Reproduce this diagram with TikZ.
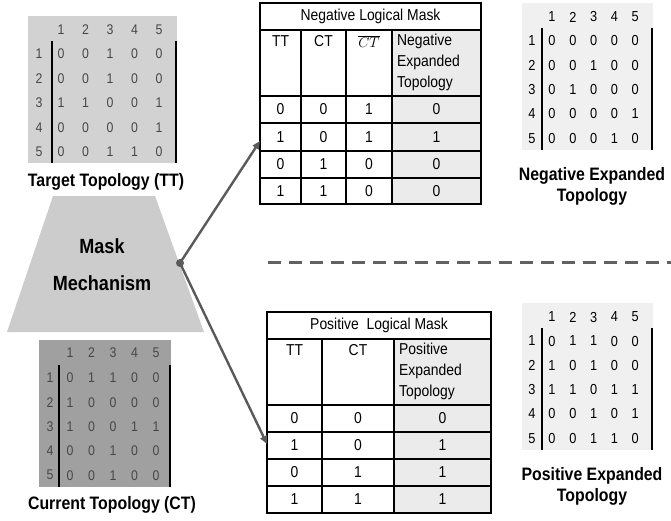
\documentclass[tikz,border=0pt]{standalone}
\usepackage{fontspec}
\setmainfont{Liberation Sans}[FakeStretch=0.88]
\usetikzlibrary{arrows.meta}
\definecolor{ttgray}{HTML}{D2D2D2}
\definecolor{ctgray}{HTML}{A0A0A0}
\definecolor{exgray}{HTML}{F0F0F0}
\definecolor{shadecol}{HTML}{EBEBEB}
\definecolor{trapcol}{HTML}{CCCCCC}
\definecolor{arrowgray}{HTML}{5A5A5A}
\begin{document}
\begin{tikzpicture}[x=1pt,y=-1pt,
  tabline/.style={line width=1.8pt, black},
  cell/.style={font=\fontsize{15.8}{18}\selectfont, inner sep=0pt},
  hcell/.style={font=\fontsize{15.8}{21}\selectfont, inner sep=0pt, anchor=north},
  tdig/.style={font=\fontsize{14}{16}\selectfont, text=black!72, inner sep=0pt},
  edig/.style={font=\fontsize{14.5}{16}\selectfont, text=black, inner sep=0pt},
  mbar/.style={line width=2.5pt, black},
  biglabel/.style={font=\fontsize{18}{21}\selectfont\bfseries, align=center, inner sep=0pt},
  mechlabel/.style={font=\fontsize{20.5}{22}\selectfont\bfseries, inner sep=0pt},
  conn/.style={line width=2.4pt, arrowgray, -{Triangle[length=8pt,width=7pt]}},
]
\useasboundingbox (0,0) rectangle (671,520);

% ---------- Target Topology matrix ----------
\fill[ttgray] (28,16) rectangle (177,163);
\draw[mbar] (52,41) -- (52,163);
\draw[mbar] (176,41) -- (176,163);
\foreach \c in {1,...,5} \node[tdig] (tth\c) at ({61+24.5*(\c-1)},30) {\c};
\foreach \r/\row in {1/{0,0,1,0,0},2/{0,0,1,0,0},3/{1,1,0,0,1},4/{0,0,0,0,1},5/{0,0,1,1,0}} {
  \node[tdig] (ttr\r) at (39,{54+24.5*(\r-1)}) {\r};
  \foreach \v [count=\c] in \row
    \node[tdig] (tt\r\c) at ({61+24.5*(\c-1)},{54+24.5*(\r-1)}) {\v};
}
\node[biglabel] (ttlabel) at (106,182) {Target Topology (TT)};

% ---------- Current Topology matrix ----------
\fill[ctgray] (39,340) rectangle (171,487);
\draw[mbar] (59,365) -- (59,487);
\draw[mbar] (170,365) -- (170,487);
\foreach \c in {1,...,5} \node[tdig] (cth\c) at ({70+21.5*(\c-1)},353) {\c};
\foreach \r/\row in {1/{0,1,1,0,0},2/{1,0,0,0,0},3/{1,0,0,1,1},4/{0,0,1,0,0},5/{0,0,1,0,0}} {
  \node[tdig] (ctr\r) at (50,{378+24.3*(\r-1)}) {\r};
  \foreach \v [count=\c] in \row
    \node[tdig] (ct\r\c) at ({70+21.5*(\c-1)},{378+24.3*(\r-1)}) {\v};
}
\node[biglabel] (ctlabel) at (112,505) {Current Topology (CT)};

% ---------- Mask mechanism ----------
\fill[trapcol] (53,196) -- (155,196) -- (204,332) -- (7,332) -- cycle;
\node[mechlabel] (mask) at (102,246) {Mask};
\node[mechlabel] (mech) at (102,283) {Mechanism};

% ---------- Negative expanded matrix ----------
\fill[exgray] (522,3) rectangle (653,150);
\draw[mbar] (542,28) -- (542,150);
\draw[mbar] (652,28) -- (652,150);
\foreach \c in {1,...,5} \node[edig] (nh\c) at ({552+20.8*(\c-1)},17) {\c};
\foreach \r/\row in {1/{0,0,0,0,0},2/{0,0,1,0,0},3/{0,1,0,0,0},4/{0,0,0,0,1},5/{0,0,0,1,0}} {
  \node[edig] (nr\r) at (532,{41+24.3*(\r-1)}) {\r};
  \foreach \v [count=\c] in \row
    \node[edig] (n\r\c) at ({552+20.8*(\c-1)},{41+24.3*(\r-1)}) {\v};
}
\node[biglabel] (nlabel) at (592,186) {Negative Expanded\\Topology};

% ---------- Positive expanded matrix ----------
\fill[exgray] (522,303) rectangle (653,450);
\draw[mbar] (542,328) -- (542,450);
\draw[mbar] (652,328) -- (652,450);
\foreach \c in {1,...,5} \node[edig] (ph\c) at ({552+20.8*(\c-1)},317) {\c};
\foreach \r/\row in {1/{0,1,1,0,0},2/{1,0,1,0,0},3/{1,1,0,1,1},4/{0,0,1,0,1},5/{0,0,1,1,0}} {
  \node[edig] (pr\r) at (532,{341+24.3*(\r-1)}) {\r};
  \foreach \v [count=\c] in \row
    \node[edig] (p\r\c) at ({552+20.8*(\c-1)},{341+24.3*(\r-1)}) {\v};
}
\node[biglabel] (plabel) at (592,486) {Positive Expanded\\Topology};

% ---------- Negative logical mask table ----------
\fill[shadecol] (392,30) rectangle (481,204);
\draw[tabline] (260,3) rectangle (481,204);
\foreach \yy in {30,96,123,151,178} \draw[tabline] (260,\yy) -- (481,\yy);
\foreach \xx in {301,346,392} \draw[tabline] (\xx,30) -- (\xx,204);
\node[cell] (ntitle) at (370.5,16.5) {Negative Logical Mask};
\node[hcell] (nhtt) at (280.5,35) {TT};
\node[hcell] (nhct) at (323.5,35) {CT};
\node[hcell, font=\fontsize{14}{16}\selectfont] (nhnct) at (369,35) {$\overline{CT}$};
\node[hcell, anchor=north west, align=left] (nhexp) at (397,34) {Negative\\Expanded\\Topology};
\foreach \r/\a/\b/\cc/\d in {1/0/0/1/0, 2/1/0/1/1, 3/0/1/0/0, 4/1/1/0/0} {
  \node[cell] (nd\r a) at (280.5,{109.5+27.3*(\r-1)}) {\a};
  \node[cell] (nd\r b) at (323.5,{109.5+27.3*(\r-1)}) {\b};
  \node[cell] (nd\r c) at (369,{109.5+27.3*(\r-1)}) {\cc};
  \node[cell] (nd\r d) at (436.5,{109.5+27.3*(\r-1)}) {\d};
}

% ---------- Positive logical mask table ----------
\fill[shadecol] (394,339) rectangle (491,513);
\draw[tabline] (267,312) rectangle (491,513);
\foreach \yy in {339,405,432,459,486} \draw[tabline] (267,\yy) -- (491,\yy);
\foreach \xx in {322,394} \draw[tabline] (\xx,339) -- (\xx,513);
\node[cell] (ptitle) at (379,325.5) {Positive~ Logical Mask};
\node[hcell] (phtt) at (294.5,344) {TT};
\node[hcell] (phct) at (358,344) {CT};
\node[hcell, anchor=north west, align=left] (phexp) at (399,343) {Positive\\Expanded\\Topology};
\foreach \r/\a/\b/\d in {1/0/0/0, 2/1/0/1, 3/0/1/1, 4/1/1/1} {
  \node[cell] (pd\r a) at (294.5,{418.5+27*(\r-1)}) {\a};
  \node[cell] (pd\r b) at (358,{418.5+27*(\r-1)}) {\b};
  \node[cell] (pd\r d) at (442.5,{418.5+27*(\r-1)}) {\d};
}

% ---------- separator ----------
\coordinate (dashA) at (268,262);
\coordinate (dashB) at (671,262);
\draw[line width=3pt, color=black!62, dash pattern=on 13pt off 8pt] (dashA) -- (dashB);

% ---------- connectors ----------
\coordinate (negin) at (260,141);
\coordinate (posin) at (267,444);
\node[circle, fill=arrowgray, inner sep=0pt, minimum size=8pt] (dot) at (180,263) {};
\draw[conn] (dot.center) -- (negin);
\draw[conn] (dot.center) -- (posin);
\end{tikzpicture}
\end{document}
